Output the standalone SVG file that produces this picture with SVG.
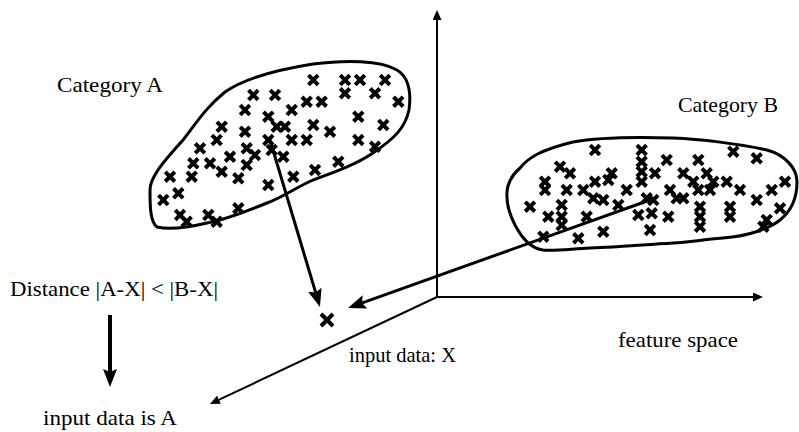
<svg xmlns="http://www.w3.org/2000/svg" xmlns:xlink="http://www.w3.org/1999/xlink" width="799" height="432" viewBox="0 0 799 432">
<style>
text { font-family: "Liberation Serif", "Times New Roman", serif; font-size: 21px; fill: #000; }
.blob { fill: none; stroke: #000; stroke-width: 3; stroke-linejoin: round; }
.cr { fill: none; stroke: #000; stroke-width: 4; }
.thick { stroke: #000; stroke-width: 3; fill: none; }
.thin { stroke: #000; stroke-width: 2; fill: none; }
</style>
<defs>
<marker id="big" viewBox="0 0 18 14" refX="8" refY="7" markerWidth="18" markerHeight="14" markerUnits="userSpaceOnUse" orient="auto">
<path d="M0,0 L18,7 L0,14 L3,7 Z" fill="#000"/>
</marker>
<marker id="small" viewBox="0 0 10 9" refX="4" refY="4.5" markerWidth="10" markerHeight="9" markerUnits="userSpaceOnUse" orient="auto">
<path d="M0,0 L10,4.5 L0,9 Z" fill="#000"/>
</marker>
<path id="x" class="cr" d="M-4.8,-4.8 L4.8,4.8 M4.8,-4.8 L-4.8,4.8"/>
</defs>
<rect width="799" height="432" fill="#fff"/>

<g id="connectors">
<line class="thin" x1="437" y1="297" x2="437" y2="16" marker-end="url(#small)"/>
<line class="thin" x1="437" y1="297" x2="757" y2="297" marker-end="url(#small)"/>
<line class="thin" x1="437" y1="297" x2="215.4" y2="401.4" marker-end="url(#small)"/>
<line class="thick" x1="270" y1="140" x2="317.1" y2="297.4" marker-end="url(#big)"/>
<line class="thick" x1="650" y1="200" x2="357.4" y2="304.6" marker-end="url(#big)"/>
<line stroke="#000" stroke-width="4" x1="110" y1="315" x2="110" y2="377" marker-end="url(#big)"/>
</g>

<g id="categoryA">
<path class="blob" d="M150,190 C150,175 170,155 183,140 C195,125 205,108 225,92 C245,78 275,70 313,64 C345,60 380,60 397,70 C410,78 411,95 409,110 C405,128 395,138 373,153 C355,165 335,172 313,180 C295,188 285,196 267,203 C250,210 225,220 207,223 C190,227 170,230 157,227 C150,222 150,205 150,190 Z"/>
<use xlink:href="#x" x="313.3" y="80"/>
<use xlink:href="#x" x="345" y="80"/>
<use xlink:href="#x" x="360" y="80"/>
<use xlink:href="#x" x="385" y="80"/>
<use xlink:href="#x" x="253.3" y="95"/>
<use xlink:href="#x" x="275" y="95"/>
<use xlink:href="#x" x="345" y="93.3"/>
<use xlink:href="#x" x="375" y="93.3"/>
<use xlink:href="#x" x="398.3" y="101.7"/>
<use xlink:href="#x" x="306.7" y="101.7"/>
<use xlink:href="#x" x="321.7" y="101.7"/>
<use xlink:href="#x" x="291.7" y="110"/>
<use xlink:href="#x" x="245" y="110"/>
<use xlink:href="#x" x="268.3" y="116.7"/>
<use xlink:href="#x" x="276.7" y="126.7"/>
<use xlink:href="#x" x="285" y="126.7"/>
<use xlink:href="#x" x="358.3" y="116.7"/>
<use xlink:href="#x" x="383.3" y="125"/>
<use xlink:href="#x" x="313.3" y="125"/>
<use xlink:href="#x" x="330" y="131.7"/>
<use xlink:href="#x" x="221.7" y="126.7"/>
<use xlink:href="#x" x="245" y="131.7"/>
<use xlink:href="#x" x="216.7" y="140"/>
<use xlink:href="#x" x="268.3" y="140"/>
<use xlink:href="#x" x="291.7" y="140"/>
<use xlink:href="#x" x="306.7" y="140"/>
<use xlink:href="#x" x="358.3" y="140"/>
<use xlink:href="#x" x="375" y="146.7"/>
<use xlink:href="#x" x="200" y="148.3"/>
<use xlink:href="#x" x="246.7" y="148.3"/>
<use xlink:href="#x" x="255" y="155"/>
<use xlink:href="#x" x="230" y="156.7"/>
<use xlink:href="#x" x="271.7" y="150"/>
<use xlink:href="#x" x="283.3" y="156.7"/>
<use xlink:href="#x" x="193.3" y="163.3"/>
<use xlink:href="#x" x="210" y="163.3"/>
<use xlink:href="#x" x="338.3" y="161.7"/>
<use xlink:href="#x" x="221.7" y="171.7"/>
<use xlink:href="#x" x="246.7" y="165"/>
<use xlink:href="#x" x="315" y="170"/>
<use xlink:href="#x" x="293.3" y="176.7"/>
<use xlink:href="#x" x="170" y="176.7"/>
<use xlink:href="#x" x="191.7" y="176.7"/>
<use xlink:href="#x" x="238.3" y="178.3"/>
<use xlink:href="#x" x="268.3" y="185"/>
<use xlink:href="#x" x="178.3" y="193.3"/>
<use xlink:href="#x" x="163.3" y="200"/>
<use xlink:href="#x" x="180" y="215"/>
<use xlink:href="#x" x="208.3" y="215"/>
<use xlink:href="#x" x="238.3" y="208.3"/>
<use xlink:href="#x" x="186.7" y="221.7"/>
<use xlink:href="#x" x="216.7" y="221.7"/>
<text x="57" y="92" textLength="106" lengthAdjust="spacingAndGlyphs">Category A</text>
</g>

<g id="categoryB">
<path class="blob" d="M507,197 C506,185 512,175 520,168 C528,158 540,150 573,142 C600,137 640,137 673,138 C700,139 740,144 767,150 C785,155 797,168 797,182 C797,200 790,212 780,220 C770,228 750,236 723,238 C700,240 690,242 673,243 C640,245 620,247 590,248 C570,249 555,251 543,250 C530,248 522,238 515,225 C510,215 507,207 507,197 Z"/>
<use xlink:href="#x" x="595" y="150"/>
<use xlink:href="#x" x="641.7" y="150"/>
<use xlink:href="#x" x="733.3" y="151.7"/>
<use xlink:href="#x" x="756.7" y="158.3"/>
<use xlink:href="#x" x="641.7" y="161.7"/>
<use xlink:href="#x" x="666.7" y="160"/>
<use xlink:href="#x" x="698.3" y="160"/>
<use xlink:href="#x" x="560" y="166.7"/>
<use xlink:href="#x" x="570" y="173.3"/>
<use xlink:href="#x" x="641.7" y="171.7"/>
<use xlink:href="#x" x="611.7" y="173.3"/>
<use xlink:href="#x" x="655" y="173.3"/>
<use xlink:href="#x" x="683.3" y="173.3"/>
<use xlink:href="#x" x="706.7" y="173.3"/>
<use xlink:href="#x" x="545" y="181.7"/>
<use xlink:href="#x" x="595" y="181.7"/>
<use xlink:href="#x" x="608.3" y="180"/>
<use xlink:href="#x" x="641.7" y="181.7"/>
<use xlink:href="#x" x="693.3" y="181.7"/>
<use xlink:href="#x" x="713.3" y="181.7"/>
<use xlink:href="#x" x="726.7" y="181.7"/>
<use xlink:href="#x" x="785" y="181.7"/>
<use xlink:href="#x" x="545" y="190"/>
<use xlink:href="#x" x="566.7" y="190"/>
<use xlink:href="#x" x="583.3" y="190"/>
<use xlink:href="#x" x="626.7" y="190"/>
<use xlink:href="#x" x="670" y="190"/>
<use xlink:href="#x" x="698.3" y="190"/>
<use xlink:href="#x" x="710" y="190"/>
<use xlink:href="#x" x="740" y="190"/>
<use xlink:href="#x" x="771.7" y="190"/>
<use xlink:href="#x" x="530" y="206.7"/>
<use xlink:href="#x" x="561.7" y="205"/>
<use xlink:href="#x" x="593.3" y="198.3"/>
<use xlink:href="#x" x="603.3" y="200"/>
<use xlink:href="#x" x="618.3" y="205"/>
<use xlink:href="#x" x="646.7" y="198.3"/>
<use xlink:href="#x" x="653.3" y="200"/>
<use xlink:href="#x" x="676.7" y="198.3"/>
<use xlink:href="#x" x="683.3" y="198.3"/>
<use xlink:href="#x" x="700" y="206.7"/>
<use xlink:href="#x" x="730" y="206.7"/>
<use xlink:href="#x" x="756.7" y="200"/>
<use xlink:href="#x" x="780" y="208.3"/>
<use xlink:href="#x" x="548.3" y="216.7"/>
<use xlink:href="#x" x="561.7" y="216.7"/>
<use xlink:href="#x" x="586.7" y="216.7"/>
<use xlink:href="#x" x="638.3" y="215"/>
<use xlink:href="#x" x="651.7" y="213.3"/>
<use xlink:href="#x" x="668.3" y="216.7"/>
<use xlink:href="#x" x="700" y="216.7"/>
<use xlink:href="#x" x="730" y="216.7"/>
<use xlink:href="#x" x="561.7" y="225"/>
<use xlink:href="#x" x="700" y="226.7"/>
<use xlink:href="#x" x="766.7" y="220"/>
<use xlink:href="#x" x="543.3" y="236.7"/>
<use xlink:href="#x" x="578.3" y="238.3"/>
<use xlink:href="#x" x="603.3" y="231.7"/>
<use xlink:href="#x" x="650" y="230"/>
<use xlink:href="#x" x="763.3" y="226.7"/>
<text x="678" y="112" textLength="100" lengthAdjust="spacingAndGlyphs">Category B</text>
</g>

<g id="inputX">
<path class="cr" stroke-width="3.8" d="M321,314 L333,326 M333,314 L321,326"/>
<text x="349" y="362" textLength="107" lengthAdjust="spacingAndGlyphs">input data: X</text>
</g>

<g id="distance">
<text x="10" y="296" textLength="208" lengthAdjust="spacingAndGlyphs">Distance |A-X| &lt; |B-X|</text>
</g>

<g id="result">
<text x="43" y="425" textLength="134" lengthAdjust="spacingAndGlyphs">input data is A</text>
</g>

<g id="featureSpace">
<text x="618" y="347" textLength="120" lengthAdjust="spacingAndGlyphs">feature space</text>
</g>
</svg>
